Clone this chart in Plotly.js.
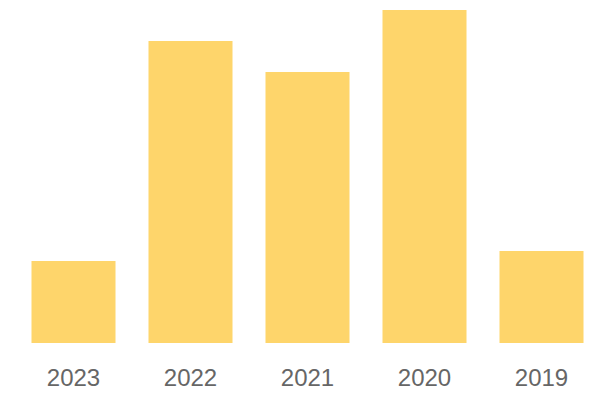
<!DOCTYPE html>
<html>
<head>
<meta charset="utf-8">
<script src="https://cdn.plot.ly/plotly-3.0.1.min.js"></script>
<style>html,body{margin:0;padding:0;background:#fff;}#chart{width:600px;height:400px;}</style>
</head>
<body>
<div id="chart"></div>
<script>
const categories = ["2023", "2022", "2021", "2020", "2019"];
const values = [82, 302, 271, 333, 92];

Plotly.newPlot("chart", [{
  type: "bar",
  x: categories,
  y: values,
  marker: {color: "#FED56B"},
  hoverinfo: "x+y"
}], {
  width: 600,
  height: 400,
  margin: {l: 15, r: 0, t: 10, b: 57},
  paper_bgcolor: "#fff",
  plot_bgcolor: "#fff",
  bargap: 0.282,
  showlegend: false,
  xaxis: {
    type: "category",
    showgrid: false,
    zeroline: false,
    showline: false,
    ticks: "",
    tickfont: {family: "'Liberation Sans', Arial, sans-serif", size: 24, color: "#666666"},
    ticklabelstandoff: 18
  },
  yaxis: {
    range: [0, 333],
    visible: false,
    showgrid: false,
    zeroline: false
  }
}, {displayModeBar: false, staticPlot: true});
</script>
</body>
</html>
